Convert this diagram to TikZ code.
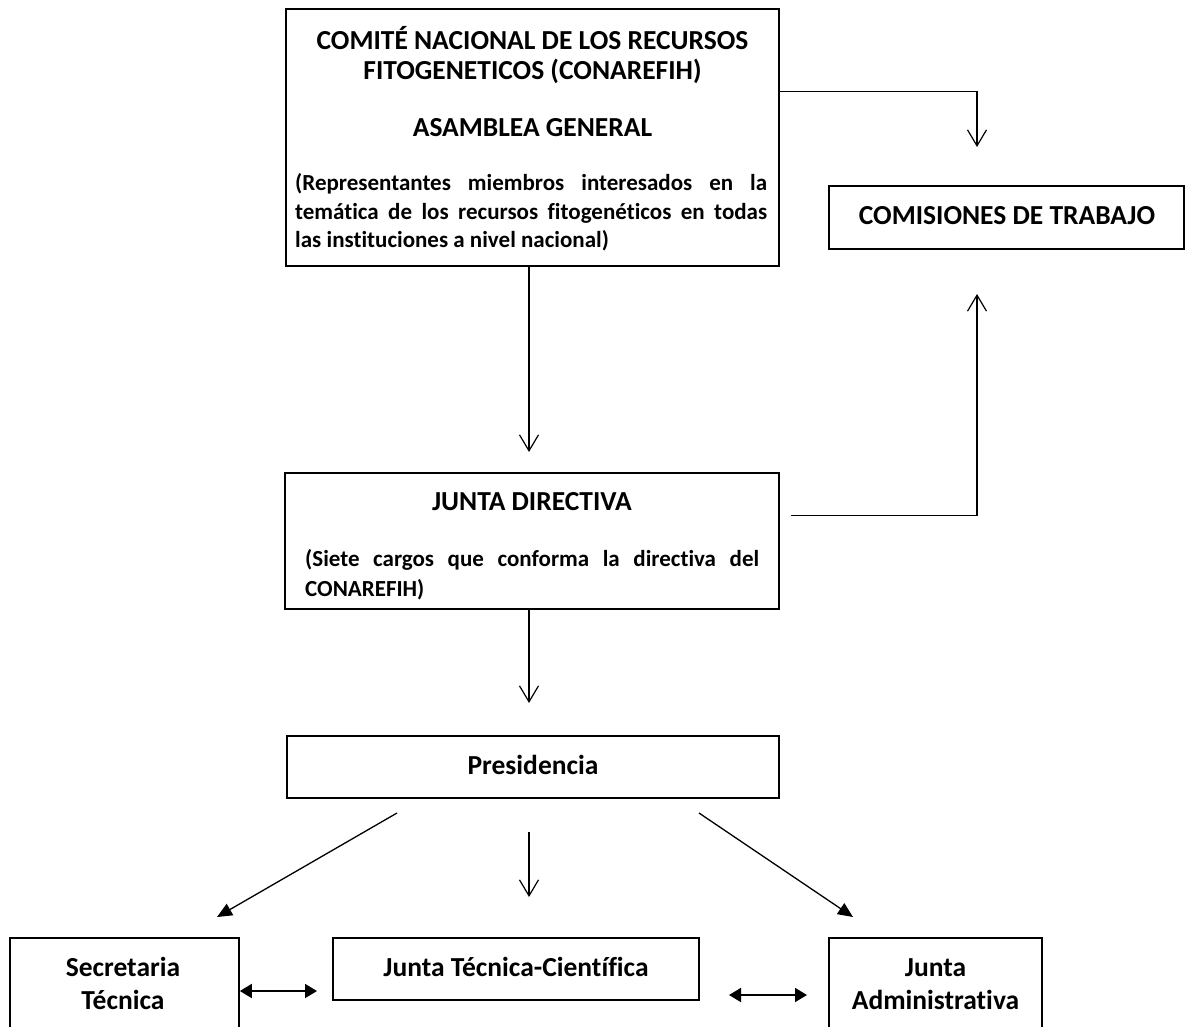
\documentclass[tikz,border=0pt]{standalone}
\usepackage{fontspec}
\setmainfont{Carlito}[Ligatures=NoCommon]
\usetikzlibrary{arrows.meta}
\begin{document}
\begin{tikzpicture}[x=1pt,y=-1pt,
  box/.style={draw, line width=1.7pt, inner sep=0pt},
  conn/.style={line width=1.3pt},
  openarr/.style={conn, -{Straight Barb[length=16pt,width=19pt,line width=1.2pt]}},
  fillarr/.style={conn, -{Triangle[length=15pt,width=13pt]}},
  dblarr/.style={line width=1.8pt, {Triangle[length=12pt,width=14pt]}-{Triangle[length=12pt,width=14pt]}},
  tfont/.style={font=\fontsize{27.5}{32}\selectfont\bfseries},
  sfont/.style={font=\fontsize{23}{28}\selectfont\bfseries},
  txt/.style={inner sep=0pt, anchor=base},
  txtl/.style={inner sep=0pt, anchor=base west}]
\useasboundingbox (0,0) rectangle (1186,1026);
% boxes
\node[box, minimum width=493pt, minimum height=257pt] (asm) at (532.5,137.5) {};
\node[box, minimum width=355pt, minimum height=63pt] (com) at (1006.5,217.5) {};
\node[box, minimum width=494pt, minimum height=136pt] (jd) at (532,541) {};
\node[box, minimum width=492pt, minimum height=62pt] (pres) at (533,767) {};
\node[box, minimum width=229pt, minimum height=102pt] (sec) at (124.5,989) {};
\node[box, minimum width=366pt, minimum height=62pt] (jtc) at (516,969) {};
\node[box, minimum width=213pt, minimum height=102pt] (ja) at (935.5,989) {};
% texts
\node[txt, tfont] (asmt1) at (532.5,49) {COMITÉ NACIONAL DE LOS RECURSOS};
\node[txt, tfont] (asmt2) at (532.5,79) {FITOGENETICOS (CONAREFIH)};
\node[txt, tfont] (asmt3) at (532.5,136) {ASAMBLEA GENERAL};
\node[txtl, sfont] (asmd1) at (295,190) {\makebox[472pt][s]{(Representantes miembros interesados en la}};
\node[txtl, sfont] (asmd2) at (295,219) {\makebox[472pt][s]{temática de los recursos fitogenéticos en todas}};
\node[txtl, sfont] (asmd3) at (295,247) {las instituciones a nivel nacional)};
\node[txt, tfont] (comt) at (1007,224) {COMISIONES DE TRABAJO};
\node[txt, tfont] (jdt) at (532,510) {JUNTA DIRECTIVA};
\node[txtl, sfont] (jdd1) at (305,566) {\makebox[454pt][s]{(Siete cargos que conforma la directiva del}};
\node[txtl, sfont] (jdd2) at (305,596) {CONAREFIH)};
\node[txt, tfont] (prest) at (533,774) {Presidencia};
\node[txt, tfont] (sect1) at (123,976) {Secretaria};
\node[txt, tfont] (sect2) at (123,1009) {Técnica};
\node[txt, tfont] (jtct) at (516,976) {Junta Técnica-Científica};
\node[txt, tfont] (jat1) at (935.5,976) {Junta};
\node[txt, tfont] (jat2) at (935.5,1009) {Administrativa};
% connector end points
\coordinate (t1) at (977,147);
\coordinate (t2) at (529,452);
\coordinate (t3) at (977,294);
\coordinate (t4) at (529,703);
\coordinate (s5) at (397,813);
\coordinate (t5) at (217,917);
\coordinate (s6) at (529,832);
\coordinate (t6) at (529,897);
\coordinate (s7) at (699,813);
\coordinate (t7) at (853,917);
\coordinate (d1) at (317,991);
\coordinate (d2a) at (729,995);
\coordinate (d2b) at (807,995);
% connectors
\draw[openarr] ([yshift=-83pt]asm.north east) -| (t1);
\draw[openarr] (asm.south -| t2) -- (t2);
\draw[openarr] ([xshift=11pt,yshift=-43pt]jd.north east) -| (t3);
\draw[openarr] (jd.south -| t4) -- (t4);
\draw[fillarr] (s5) -- (t5);
\draw[openarr] (s6) -- (t6);
\draw[fillarr] (s7) -- (t7);
\draw[dblarr] (sec.east |- d1) -- (d1);
\draw[dblarr] (d2a) -- (d2b);
\end{tikzpicture}
\end{document}
